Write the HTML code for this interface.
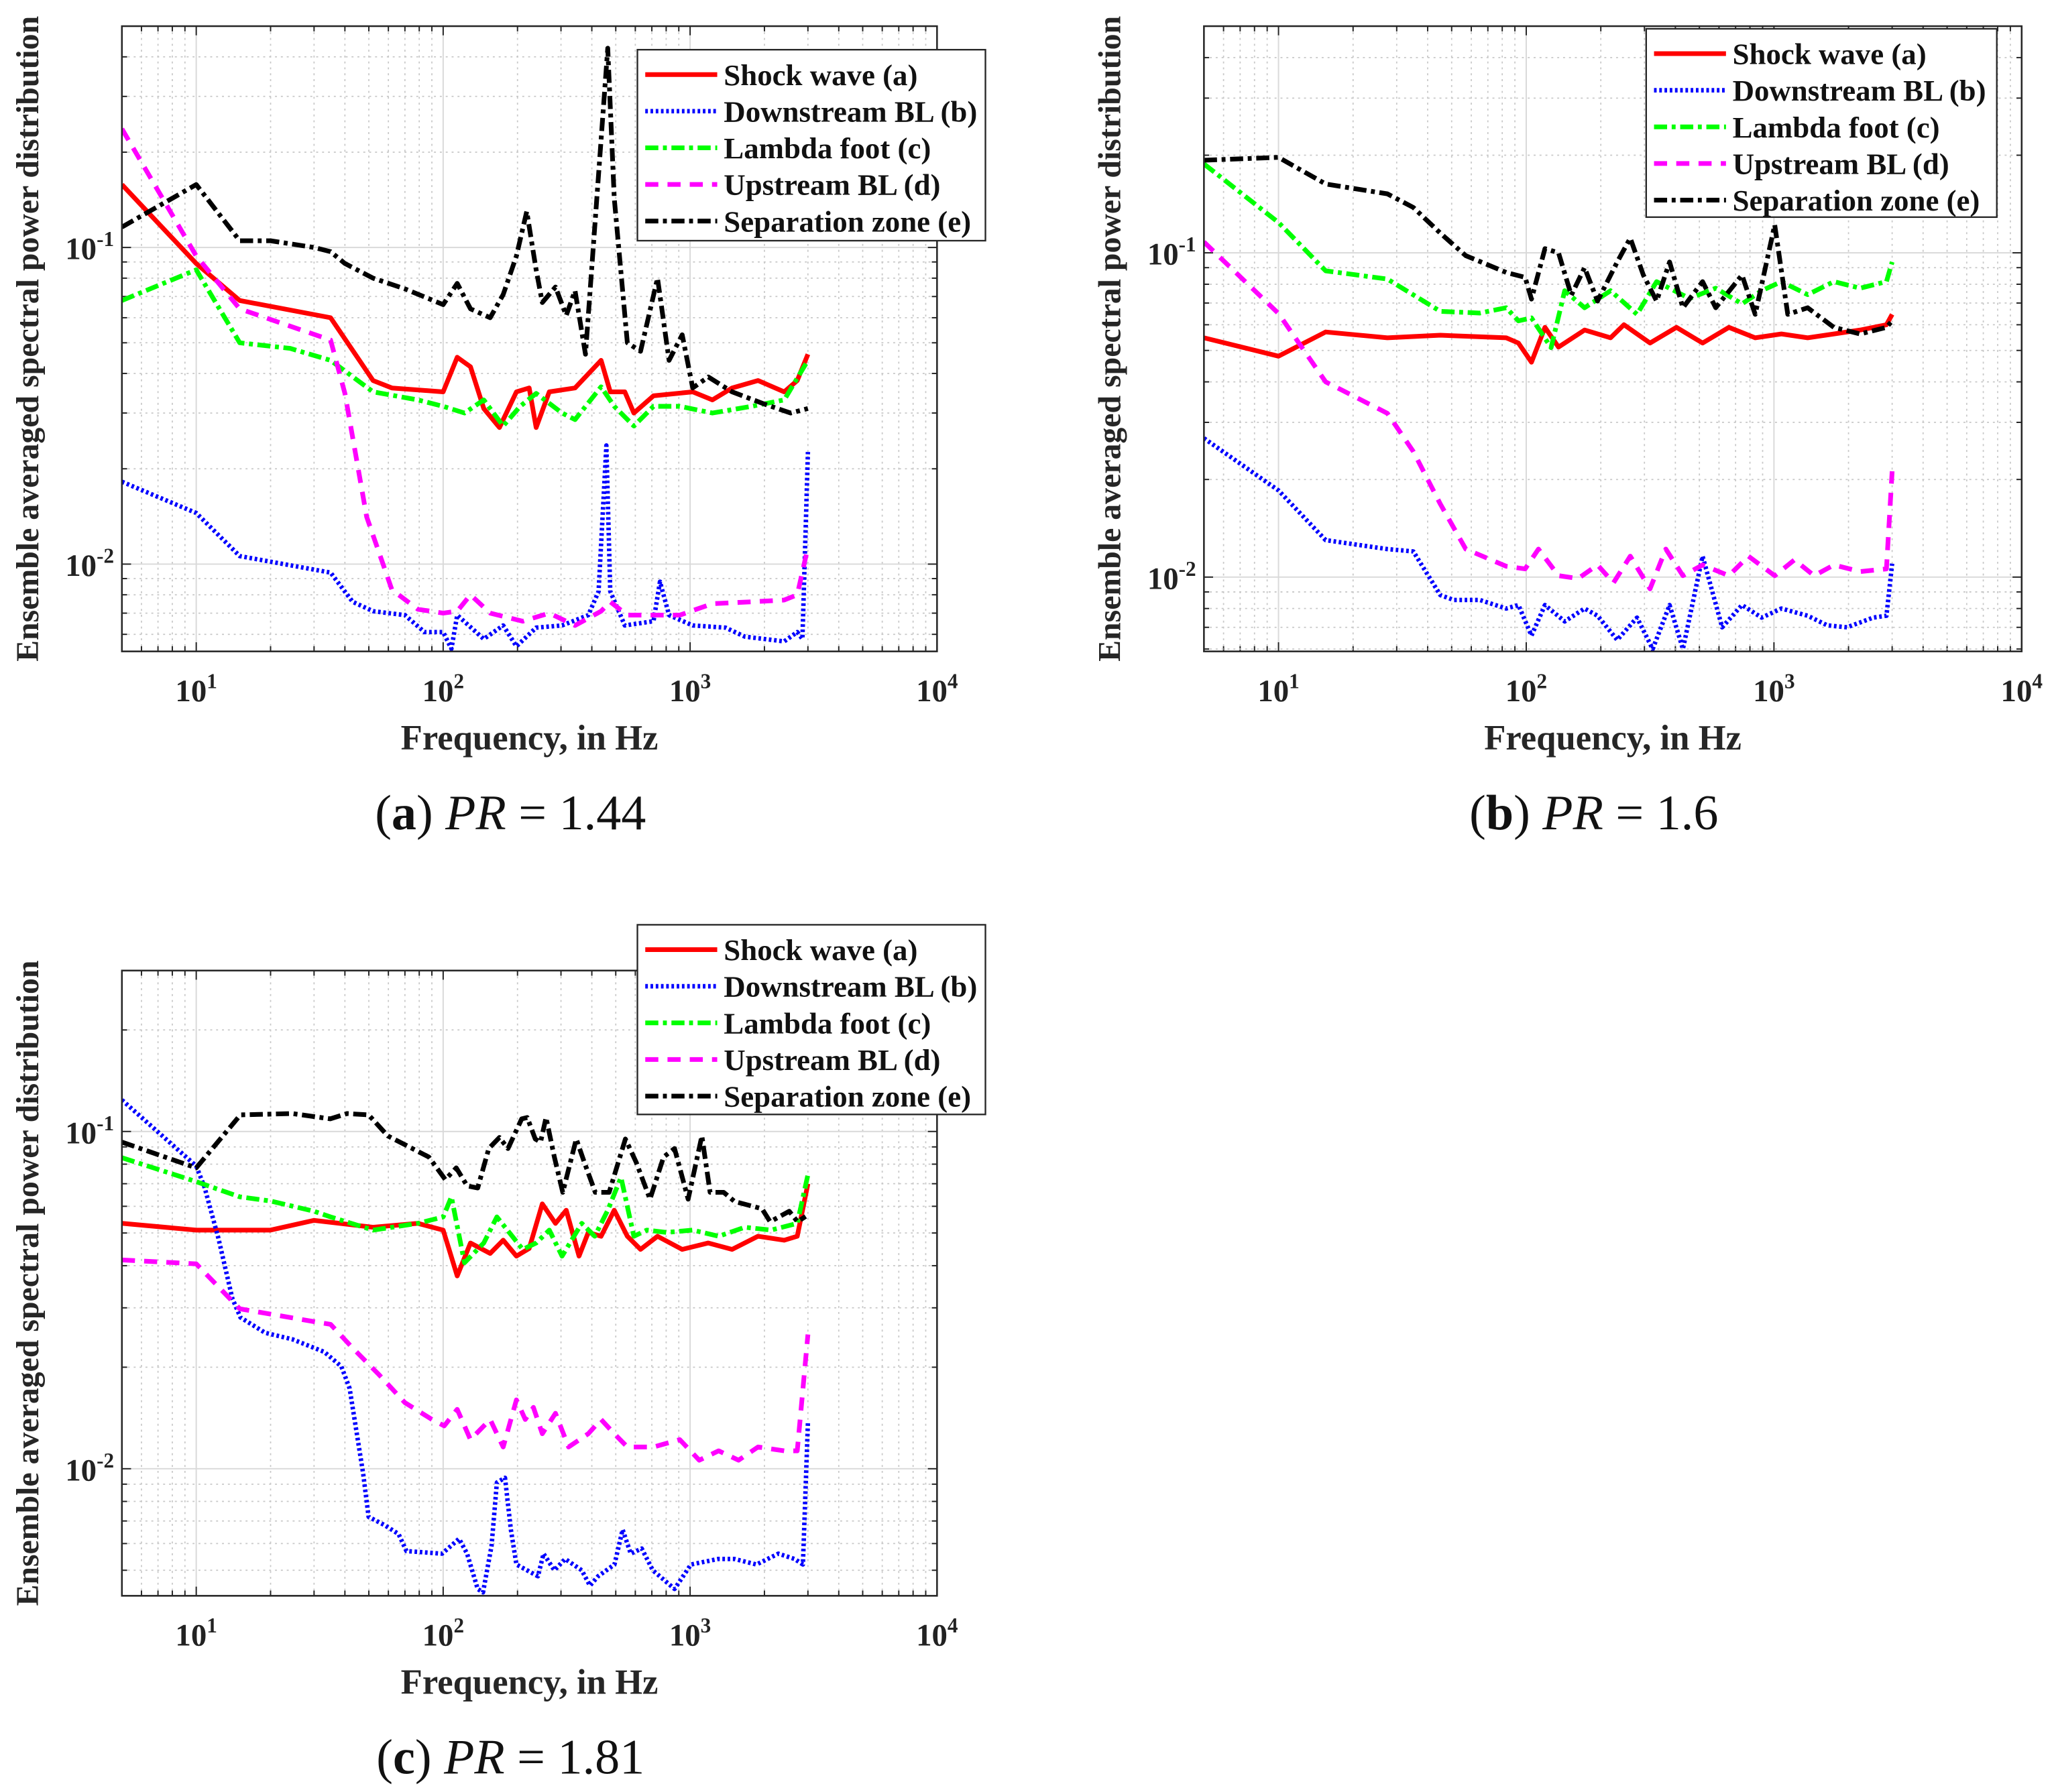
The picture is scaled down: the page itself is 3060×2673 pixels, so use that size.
<!DOCTYPE html>
<html><head><meta charset="utf-8"><style>
html,body{margin:0;padding:0;background:#fff}
svg{display:block}
text{font-family:"Liberation Serif",serif}
</style></head><body>
<svg id="fig" xmlns="http://www.w3.org/2000/svg" width="3060" height="2673" viewBox="0 0 1568 1370"></svg>
<script>
// ---------- Data: panel (a) PR=1.44 ----------
const aShockF=[5,10,15,35,52,62,100,114,129,146,169,198,223,238,269,342,436,475,544,592,711,1025,1231,1479,1884,2405,2716,3000];
const aShockV=[0.158,0.089,0.068,0.060,0.038,0.036,0.035,0.045,0.042,0.031,0.027,0.035,0.036,0.027,0.035,0.036,0.044,0.035,0.035,0.030,0.034,0.035,0.033,0.036,0.038,0.035,0.038,0.046];
const aDownF=[5,10,15,35,43,52,70,84,100,108,114,146,175,198,238,303,387,426,458,475,544,711,755,822,1025,1390,1667,2405,2716,2850,3000];
const aDownV=[0.0182,0.0145,0.0106,0.0094,0.0076,0.0071,0.0069,0.0061,0.0061,0.0054,0.0069,0.0058,0.0064,0.0055,0.0063,0.0064,0.0069,0.0082,0.0237,0.0082,0.0064,0.0066,0.0088,0.0069,0.0064,0.0063,0.0059,0.0057,0.0061,0.0058,0.0226];
const aLambdaF=[5,10,15,24,35,52,79,100,122,146,175,205,238,303,342,436,493,592,711,908,1231,1775,2405,3000];
const aLambdaV=[0.068,0.085,0.050,0.048,0.044,0.035,0.033,0.0315,0.030,0.033,0.0273,0.0315,0.0346,0.030,0.0286,0.0363,0.0315,0.0273,0.0315,0.0315,0.030,0.0315,0.033,0.044];
const aUpF=[5,10,15,35,40,49,62,79,100,114,129,155,210,269,342,436,475,557,711,908,1231,1775,2405,2716,3000];
const aUpV=[0.237,0.094,0.064,0.051,0.0346,0.0141,0.0083,0.0072,0.0070,0.0071,0.0080,0.0070,0.0066,0.0070,0.0064,0.0071,0.0076,0.0069,0.0069,0.0069,0.0075,0.0076,0.0077,0.0080,0.0113];
const aSepF=[5,10,15,20,30,35,40,52,70,100,114,129,155,175,198,218,238,252,285,315,342,377,464,493,557,630,738,822,929,1025,1185,1479,2004,2553,3000];
const aSepV=[0.116,0.158,0.105,0.105,0.1,0.097,0.089,0.080,0.074,0.066,0.077,0.064,0.060,0.071,0.094,0.130,0.085,0.067,0.075,0.061,0.073,0.046,0.426,0.143,0.050,0.047,0.080,0.044,0.053,0.036,0.039,0.035,0.032,0.030,0.031];
// ---------- Data: panel (b) PR=1.6 ----------
const bShockF=[5,10,15.5,27.5,45,83,93,105,119,135,172,219,248,316,404,515,658,840,1072,1368,1746,2229,2845,3000];
const bShockV=[0.0547,0.048,0.057,0.0547,0.0557,0.0547,0.0527,0.046,0.0589,0.0512,0.0578,0.0547,0.060,0.0527,0.0589,0.0527,0.0589,0.0547,0.0562,0.0547,0.0562,0.0578,0.060,0.0646];
const bDownF=[5,10,15.5,27.5,35,45,51,65,83,93,105,119,143,172,194,233,280,324,379,429,515,618,743,892,1072,1368,1641,1971,2515,2845,3000];
const bDownV=[0.0268,0.0185,0.013,0.0122,0.0120,0.0088,0.0085,0.0085,0.0080,0.0082,0.0066,0.0082,0.0073,0.0080,0.0076,0.0064,0.0075,0.0060,0.0082,0.0060,0.0116,0.007,0.0082,0.0075,0.0080,0.0076,0.0071,0.007,0.0075,0.0076,0.011];
const bLambdaF=[5,10,15.5,27.5,45,65,83,93,105,126,143,172,219,280,336,456,582,743,892,1072,1368,1746,2229,2845,3000];
const bLambdaV=[0.188,0.124,0.088,0.083,0.066,0.0652,0.0677,0.0617,0.063,0.051,0.0764,0.0677,0.0764,0.0646,0.0815,0.0723,0.0778,0.0696,0.0764,0.0815,0.0743,0.0815,0.0778,0.0815,0.0937];
const bUpF=[5,10,15.5,27.5,35,45,57,83,99,112,135,162,194,225,263,316,366,429,515,658,789,1007,1210,1453,1746,2229,2845,3000];
const bUpV=[0.108,0.065,0.040,0.032,0.0244,0.0168,0.0122,0.0108,0.0106,0.0122,0.0101,0.0099,0.0109,0.0096,0.0116,0.0092,0.0122,0.0101,0.0109,0.0101,0.0116,0.0101,0.0113,0.0101,0.0109,0.0104,0.0106,0.0212];
const bSepF=[5,10,15.5,27.5,35,45,57,83,99,105,119,135,152,172,194,233,263,297,336,379,429,515,582,743,840,1007,1137,1368,1746,2229,2845,3000];
const bSepV=[0.193,0.197,0.163,0.152,0.138,0.115,0.098,0.087,0.084,0.072,0.103,0.100,0.074,0.090,0.071,0.0937,0.111,0.0854,0.071,0.0937,0.0677,0.0815,0.0677,0.0854,0.0646,0.122,0.0646,0.0677,0.0589,0.0562,0.0589,0.0617];
// ---------- Data: panel (c) PR=1.81 ----------
const cShockF=[5,10,20,30,52,79,100,114,129,155,175,198,223,252,285,315,355,387,436,493,557,630,738,929,1185,1479,1884,2405,2716,3000];
const cShockV=[0.0534,0.051,0.051,0.0545,0.052,0.0534,0.051,0.0373,0.0467,0.0435,0.0476,0.0427,0.045,0.061,0.0534,0.0584,0.0427,0.0502,0.0489,0.0584,0.0489,0.0447,0.0489,0.0447,0.0467,0.0447,0.0489,0.0476,0.0489,0.070];
const cDownF=[5,10,10.8,12.3,14,15.1,19,24.5,33,38.7,41.8,47.4,49.9,58,66,71,99,116,125,138,145,157,165,178,188,198,242,255,282,312,364,393,424,494,533,575,637,706,865,1008,1300,1514,1857,2277,2650,2863,3000];
const cDownV=[0.124,0.079,0.0684,0.0482,0.032,0.0281,0.0253,0.0242,0.0222,0.0201,0.0173,0.0097,0.0072,0.0068,0.0064,0.0057,0.0056,0.0062,0.0056,0.0044,0.0043,0.0059,0.0091,0.0094,0.0066,0.0052,0.0048,0.0056,0.0050,0.0054,0.0050,0.0045,0.0048,0.0052,0.0066,0.0056,0.0058,0.0050,0.0044,0.0052,0.0054,0.0054,0.0052,0.0056,0.0054,0.0052,0.0137];
const cLambdaF=[5,10,15,20,30,35,52,79,100,108,122,146,165,210,238,269,303,364,411,464,525,592,668,803,1025,1305,1667,2127,2716,3000];
const cLambdaV=[0.0836,0.071,0.064,0.0622,0.058,0.0558,0.051,0.0534,0.0558,0.064,0.0408,0.0467,0.0558,0.0447,0.0467,0.051,0.0427,0.0534,0.0489,0.0584,0.0731,0.0489,0.051,0.0502,0.051,0.0489,0.052,0.051,0.0534,0.0744];
const cUpF=[5,10,15,30,35,43,55,70,90,101,114,129,155,175,198,215,232,252,285,322,387,436,493,557,711,908,1089,1305,1571,1884,2405,2716,3000];
const cUpV=[0.0416,0.0405,0.0298,0.0273,0.0268,0.0228,0.019,0.0157,0.014,0.0134,0.015,0.0122,0.0140,0.0116,0.016,0.0140,0.0152,0.0127,0.0146,0.0116,0.0127,0.0140,0.0127,0.0116,0.0116,0.0122,0.0106,0.0113,0.0106,0.0116,0.0113,0.0113,0.025];
const cSepF=[5,10,15.1,24.5,34.9,40.8,49.9,59.7,87.5,102,113,125,138,153,169,183,208,219,236,248,261,282,305,346,373,413,470,547,605,688,781,865,982,1116,1205,1368,1514,1955,2109,2521,2723,2937];
const cSepV=[0.093,0.078,0.112,0.113,0.109,0.113,0.112,0.097,0.084,0.072,0.078,0.069,0.068,0.089,0.096,0.089,0.109,0.11,0.095,0.093,0.11,0.084,0.066,0.095,0.081,0.066,0.066,0.095,0.081,0.063,0.084,0.089,0.063,0.097,0.066,0.066,0.062,0.059,0.054,0.058,0.054,0.056];

const seriesNames=["Shock wave (a)","Downstream BL (b)","Lambda foot (c)","Upstream BL (d)","Separation zone (e)"];
const xTickLabels=["1","2","3","4"];

const NS="http://www.w3.org/2000/svg";
const svg=document.getElementById('fig');
function mk(tag,attrs,parent){const e=document.createElementNS(NS,tag);for(const k in attrs)e.setAttribute(k,attrs[k]);(parent||svg).appendChild(e);return e;}

const styles=[
 {stroke:"#ff0000",dash:"",w:3.6},
 {stroke:"#0000ff",dash:"2 2",w:3.4},
 {stroke:"#00ff00",dash:"10 3.5 3 3.5",w:3.6},
 {stroke:"#ff00ff",dash:"10 7",w:3.6},
 {stroke:"#000000",dash:"10 3.5 3 3.5",w:3.6}
];

function panel(id,box,ymin,ymax,series,legendBox,caption,captionX){
  const g=mk('g',{});
  
  
  const xmin=5,xmax=1e4;
  const X=f=>box.x0+(Math.log10(f)-Math.log10(xmin))/(Math.log10(xmax)-Math.log10(xmin))*(box.x1-box.x0);
  const Y=v=>box.y1-(Math.log10(v)-Math.log10(ymin))/(Math.log10(ymax)-Math.log10(ymin))*(box.y1-box.y0);
  const grid=mk('g',{},g);
  
  
  for(let d=0;d<=4;d++){for(let m=1;m<=9;m++){const f=m*Math.pow(10,d);if(f<=xmin||f>=xmax)continue;const x=X(f);
    if(m===1){mk('line',{x1:x,x2:x,y1:box.y0,y2:box.y1,stroke:"#d9d9d9","stroke-width":1},grid);}
    else{mk('line',{x1:x,x2:x,y1:box.y0,y2:box.y1,stroke:"#c8c8c8","stroke-width":0.9,"stroke-dasharray":"1.5 3"},grid);}
    const tl=m===1?7:4;
    mk('line',{x1:x,x2:x,y1:box.y1,y2:box.y1-tl,stroke:"#222","stroke-width":1},grid);
    mk('line',{x1:x,x2:x,y1:box.y0,y2:box.y0+tl,stroke:"#222","stroke-width":1},grid);
  }}
  for(let d=-4;d<=0;d++){for(let m=1;m<=9;m++){const v=m*Math.pow(10,d);if(v<=ymin||v>=ymax)continue;const y=Y(v);
    if(m===1){mk('line',{x1:box.x0,x2:box.x1,y1:y,y2:y,stroke:"#d9d9d9","stroke-width":1},grid);}
    else{mk('line',{x1:box.x0,x2:box.x1,y1:y,y2:y,stroke:"#c8c8c8","stroke-width":0.9,"stroke-dasharray":"1.5 3"},grid);}
    const tl=m===1?7:4;
    mk('line',{x1:box.x0,x2:box.x0+tl,y1:y,y2:y,stroke:"#222","stroke-width":1},grid);
    mk('line',{x1:box.x1,x2:box.x1-tl,y1:y,y2:y,stroke:"#222","stroke-width":1},grid);
    if(m===1){const t=mk('text',{x:box.x0-6,y:y+9,"text-anchor":"end","font-size":24,"font-weight":"bold",fill:"#222"},g);
      
      
      t.innerHTML='10<tspan dy="-10" font-size="16">'+d+'</tspan>';}
  }}
  xTickLabels.forEach(p=>{const x=X(Math.pow(10,+p));const t=mk('text',{x:x,y:box.y1+38,"text-anchor":"middle","font-size":24,"font-weight":"bold",fill:"#222"},g);
    
    
    t.innerHTML='10<tspan dy="-10" font-size="16">'+p+'</tspan>';});
  const cp=mk('clipPath',{id:'clip'+id},g);
  mk('rect',{x:box.x0,y:box.y0,width:box.x1-box.x0,height:box.y1-box.y0},cp);
  const lines=mk('g',{"clip-path":"url(#clip"+id+")"},g);
  series.forEach((s,i)=>{const n=Math.min(s[0].length,s[1].length);let d='';
    for(let k=0;k<n;k++){d+=(k?'L':'M')+X(s[0][k]).toFixed(2)+','+Y(s[1][k]).toFixed(2);}
    const st=styles[i];
    const p=mk('path',{d:d,fill:"none",stroke:st.stroke,"stroke-width":st.w,"stroke-dasharray":st.dash,"stroke-linejoin":"round"},lines);
    
    
  });
  const frame=mk('rect',{x:box.x0,y:box.y0,width:box.x1-box.x0,height:box.y1-box.y0,fill:"none",stroke:"#262626","stroke-width":1.3},g);
  
  
  const lg=mk('g',{},g);
  
  
  mk('rect',{x:legendBox.x,y:legendBox.y,width:legendBox.w,height:legendBox.h,fill:"#fff",stroke:"#262626","stroke-width":1.2},lg);
  seriesNames.forEach((nm,i)=>{const yy=legendBox.y+19+i*28;const st=styles[i];
    const en=mk('g',{},lg);
    
    
    mk('line',{x1:legendBox.x+6,x2:legendBox.x+61,y1:yy,y2:yy,stroke:st.stroke,"stroke-width":st.w,"stroke-dasharray":st.dash},en);
    const t=mk('text',{x:legendBox.x+66,y:yy+8,"font-size":23,"font-weight":"bold",fill:"#111"},en);t.textContent=nm;});
  const cy=(box.y0+box.y1)/2;
  const yt=mk('text',{x:0,y:0,transform:`translate(${box.x0-64},${cy}) rotate(-90)`,"text-anchor":"middle","font-size":24.5,"font-weight":"bold",fill:"#262626"},g);
  
  
  yt.textContent='Ensemble averaged spectral power distribution';
  const xt=mk('text',{x:(box.x0+box.x1)/2,y:box.y1+75,"text-anchor":"middle","font-size":27,"font-weight":"bold",fill:"#262626"},g);
  
  
  xt.textContent='Frequency, in Hz';
  const cap=mk('text',{x:captionX,y:box.y1+136,"text-anchor":"middle","font-size":38,fill:"#111"},g);
  
  
  cap.innerHTML='(<tspan font-weight="bold">'+caption[0]+'</tspan>) <tspan font-style="italic">PR</tspan> = '+caption[1];
}

panel('a',{x0:93,x1:716,y0:20,y1:498},0.0053,0.5,
  [[aShockF,aShockV],[aDownF,aDownV],[aLambdaF,aLambdaV],[aUpF,aUpV],[aSepF,aSepV]],
  {x:487,y:38,w:266,h:146},['a','1.44'],390);
panel('b',{x0:920,x1:1545,y0:20,y1:498},0.0059,0.5,
  [[bShockF,bShockV],[bDownF,bDownV],[bLambdaF,bLambdaV],[bUpF,bUpV],[bSepF,bSepV]],
  {x:1258,y:22,w:268,h:144},['b','1.6'],1218);
panel('c',{x0:93,x1:716,y0:742,y1:1220},0.0042,0.3,
  [[cShockF,cShockV],[cDownF,cDownV],[cLambdaF,cLambdaV],[cUpF,cUpV],[cSepF,cSepV]],
  {x:487,y:707,w:266,h:145},['c','1.81'],390);
</script>
</body></html>
